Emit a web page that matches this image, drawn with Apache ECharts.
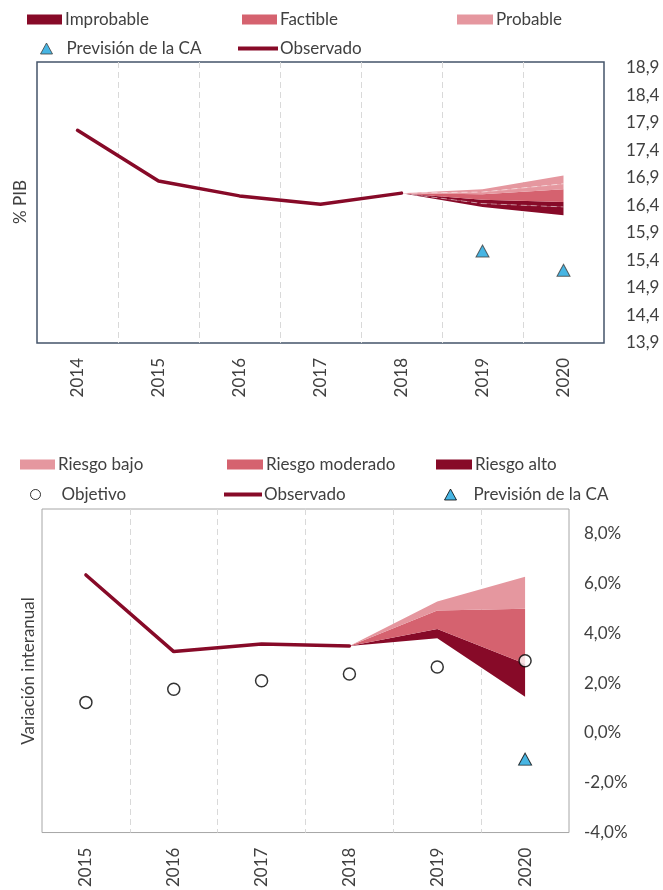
<!DOCTYPE html>
<html>
<head>
<meta charset="utf-8">
<script src="https://cdn.jsdelivr.net/npm/echarts@6/dist/echarts.min.js"></script>
<style>
  html, body { margin: 0; padding: 0; background: #fff; }
  #chart { width: 663px; height: 890px; }
</style>
</head>
<body>
<div id="chart"></div>
<script>
// ---- top chart: % PIB ----
const yearsTop = ['2014', '2015', '2016', '2017', '2018', '2019', '2020'];
const observadoTop = [17.76, 16.84, 16.57, 16.42, 16.62, null, null];
const previsionTop = [null, null, null, null, null, 15.57, 15.22];
// fan edges, from bottom to top
const fanLowTop = [null, null, null, null, 16.62, 16.37, 16.22];
const improbMidTop = [null, null, null, null, 16.62, 16.43, 16.37];
const improbHighTop = [null, null, null, null, 16.62, 16.50, 16.46];
const factibleHighTop = [null, null, null, null, 16.62, 16.60, 16.69];
const probMidTop = [null, null, null, null, 16.62, 16.64, 16.79];
const probHighTop = [null, null, null, null, 16.62, 16.69, 16.94];
const ticksTop = [13.9, 14.4, 14.9, 15.4, 15.9, 16.4, 16.9, 17.4, 17.9, 18.4, 18.9];

// ---- bottom chart: variacion interanual ----
const yearsBot = ['2015', '2016', '2017', '2018', '2019', '2020'];
const observadoBot = [6.35, 3.27, 3.58, 3.50, null, null];
const objetivoBot = [1.23, 1.76, 2.10, 2.37, 2.65, 2.90];
const previsionBot = [null, null, null, null, null, -1.05];
const fanLowBot = [null, null, null, 3.50, 3.81, 1.46];
const altoHighBot = [null, null, null, 3.50, 4.18, 2.78];
const moderadoHighBot = [null, null, null, 3.50, 4.92, 4.99];
const bajoHighBot = [null, null, null, 3.50, 5.28, 6.28];
const ticksBot = [-4, -2, 0, 2, 4, 6, 8];

const DARK = '#870A28', MID = '#D5626F', LIGHT = '#E5979F', BLUE = '#19A3DC';
const TXT = '#404040';
const FONT = 'Lato';
const FS = 17;

// difference between two edge arrays, used as stacked band thickness
function band(hi, lo) {
  return hi.map((v, i) => v == null ? null : +(v - lo[i]).toFixed(3));
}

function bandSeries(name, data, color, axis, stack, dashed) {
  return {
    name: name, type: 'line', data: data, stack: stack,
    xAxisIndex: axis, yAxisIndex: axis,
    showSymbol: false, silent: true, z: 2,
    itemStyle: { color: color },
    lineStyle: dashed
      ? { color: 'rgba(255,255,255,0.45)', width: 1, type: [6, 4] }
      : { width: 0 },
    areaStyle: { color: color, opacity: 1 }
  };
}

function leg(left, top, name, icon, color, w, h, pad, border) {
  return {
    left: left, top: top, padding: 0, selectedMode: false,
    itemWidth: w, itemHeight: h, itemGap: 0,
    textStyle: { fontFamily: FONT, fontSize: FS, color: TXT, padding: [0, 0, 0, pad] },
    data: [{
      name: name, icon: icon,
      itemStyle: { color: color, borderColor: border || color, borderWidth: border ? 1 : 0 }
    }]
  };
}

const chart = echarts.init(document.getElementById('chart'));

chart.setOption({
  animation: false,
  legend: [
    leg(27, 11, 'Improbable', 'rect', DARK, 35, 10, -2),
    leg(242, 11, 'Factible', 'rect', MID, 35, 10, -2),
    leg(457, 11, 'Probable', 'rect', LIGHT, 36, 10, -2),
    leg(40, 40, 'Previsión de la CA', 'triangle', BLUE, 12, 11, 9, '#404040'),
    leg(238, 40, 'Observado', 'rect', DARK, 40, 4, -3),
    leg(20, 456, 'Riesgo bajo', 'rect', LIGHT, 35, 10, -2),
    leg(227, 456, 'Riesgo moderado', 'rect', MID, 36, 10, -2),
    leg(436, 456, 'Riesgo alto', 'rect', DARK, 36, 10, -2),
    leg(30, 486, 'Objetivo', 'circle', '#fff', 10, 10, 16, '#000'),
    leg(224, 486, 'Observado ', 'rect', DARK, 38, 4, -3),
    leg(444, 486, 'Previsión de la CA ', 'triangle', BLUE, 12, 11, 12, '#000')
  ],
  graphic: [
    { type: 'text', x: 21, y: 202, rotation: Math.PI / 2,
      style: { text: '% PIB', font: FS + 'px Lato', fill: TXT, align: 'center', verticalAlign: 'middle' } },
    { type: 'text', x: 29, y: 671, rotation: Math.PI / 2,
      style: { text: 'Variación interanual', font: FS + 'px Lato', fill: TXT, align: 'center', verticalAlign: 'middle' } }
  ],
  grid: [
    { left: 37, top: 62, width: 567, height: 281, show: true, borderColor: '#44546A', borderWidth: 1.5 },
    { left: 42, top: 509, width: 527, height: 324, show: true, borderColor: '#A6A6A6', borderWidth: 1 }
  ],
  xAxis: [
    {
      type: 'category', gridIndex: 0, data: yearsTop, boundaryGap: true,
      axisLine: { show: false }, axisTick: { show: false },
      axisLabel: { rotate: 90, margin: 15, fontFamily: FONT, fontSize: FS, color: TXT },
      splitLine: { show: true, showMinLine: false, showMaxLine: false,
        lineStyle: { color: '#D9D9D9', type: [6, 4], width: 1 } }
    },
    {
      type: 'category', gridIndex: 1, data: yearsBot, boundaryGap: true,
      axisLine: { show: false }, axisTick: { show: false },
      axisLabel: { rotate: 90, margin: 15, fontFamily: FONT, fontSize: FS, color: TXT },
      splitLine: { show: true, showMinLine: false, showMaxLine: false,
        lineStyle: { color: '#D9D9D9', type: [6, 4], width: 1 } }
    }
  ],
  yAxis: [
    {
      type: 'value', gridIndex: 0, position: 'right', min: 13.9, max: 19.0,
      axisLine: { show: false }, axisTick: { show: false }, splitLine: { show: false },
      axisLabel: {
        customValues: ticksTop, margin: 22, fontFamily: FONT, fontSize: FS, color: TXT,
        formatter: v => v.toFixed(1).replace('.', ',')
      }
    },
    {
      type: 'value', gridIndex: 1, position: 'right', min: -4, max: 9,
      axisLine: { show: false }, axisTick: { show: false }, splitLine: { show: false },
      axisLabel: {
        customValues: ticksBot, margin: 15, fontFamily: FONT, fontSize: FS, color: TXT,
        formatter: v => v.toFixed(1).replace('.', ',') + '%'
      }
    }
  ],
  series: [
    // top fan
    { name: 'baseTop', type: 'line', stack: 'fanTop', data: fanLowTop, xAxisIndex: 0, yAxisIndex: 0,
      showSymbol: false, silent: true, lineStyle: { opacity: 0 } },
    bandSeries('Improbable', band(improbMidTop, fanLowTop), DARK, 0, 'fanTop', true),
    bandSeries('improb2', band(improbHighTop, improbMidTop), DARK, 0, 'fanTop'),
    bandSeries('Factible', band(factibleHighTop, improbHighTop), MID, 0, 'fanTop'),
    bandSeries('Probable', band(probMidTop, factibleHighTop), LIGHT, 0, 'fanTop', true),
    bandSeries('prob2', band(probHighTop, probMidTop), LIGHT, 0, 'fanTop'),
    { name: 'Observado', type: 'line', data: observadoTop, xAxisIndex: 0, yAxisIndex: 0,
      showSymbol: false, z: 3, itemStyle: { color: DARK },
      lineStyle: { color: DARK, width: 3.5, cap: 'round' } },
    { name: 'Previsión de la CA', type: 'scatter', data: previsionTop, xAxisIndex: 0, yAxisIndex: 0,
      symbol: 'triangle', symbolSize: [13, 12], z: 4,
      itemStyle: { color: BLUE, borderColor: '#404040', borderWidth: 1 } },

    // bottom fan
    { name: 'baseBot', type: 'line', stack: 'fanBot', data: fanLowBot, xAxisIndex: 1, yAxisIndex: 1,
      showSymbol: false, silent: true, lineStyle: { opacity: 0 } },
    bandSeries('Riesgo alto', band(altoHighBot, fanLowBot), DARK, 1, 'fanBot'),
    bandSeries('Riesgo moderado', band(moderadoHighBot, altoHighBot), MID, 1, 'fanBot'),
    bandSeries('Riesgo bajo', band(bajoHighBot, moderadoHighBot), LIGHT, 1, 'fanBot'),
    { name: 'Observado ', type: 'line', data: observadoBot, xAxisIndex: 1, yAxisIndex: 1,
      showSymbol: false, z: 3, itemStyle: { color: DARK },
      lineStyle: { color: DARK, width: 3.5, cap: 'round' } },
    { name: 'Objetivo', type: 'scatter', data: objetivoBot, xAxisIndex: 1, yAxisIndex: 1,
      symbol: 'circle', symbolSize: 12, z: 4,
      itemStyle: { color: '#fff', borderColor: '#000', borderWidth: 1.5 } },
    { name: 'Previsión de la CA ', type: 'scatter', data: previsionBot, xAxisIndex: 1, yAxisIndex: 1,
      symbol: 'triangle', symbolSize: [13, 12], z: 4,
      itemStyle: { color: BLUE, borderColor: '#000', borderWidth: 1 } }
  ]
});
</script>
</body>
</html>
